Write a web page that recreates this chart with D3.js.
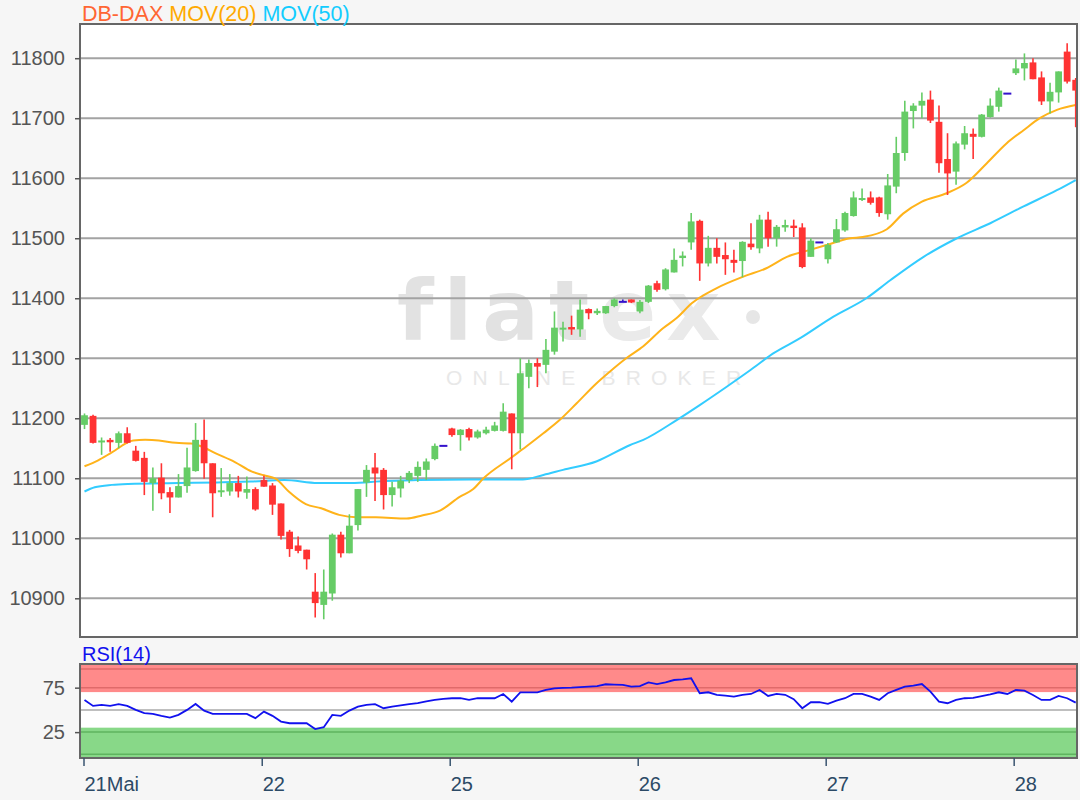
<!DOCTYPE html>
<html>
<head>
<meta charset="utf-8">
<script src="https://cdn.jsdelivr.net/npm/d3@7"></script>
<style>
  body { margin: 0; background: #f6f6f6; }
  svg { display: block; font-family: "Liberation Sans", Arial, sans-serif; }
</style>
</head>
<body>
<svg id="chart"></svg>
<script>
// half-hour candles
const opens  = [11189,11204,11161,11164,11159,11175,11146,11134,11092,11101,11077,11068,11087,11112,11164,11125,11078,11078,11092,11076,
                11082,11097,11088,11058,11011,10988,10981,10911,10889,10908,11006,10975,11022,11093,11118,11114,11072,11083,11097,11104,
                11114,11132,11154,11183,11172,11182,11168,11175,11179,11179,11208,11175,11269,11292,11289,11311,11349,11352,11348,11382,
                11375,11375,11387,11394,11398,11378,11394,11425,11415,11443,11467,11493,11529,11458,11484,11472,11464,11462,11491,11483,
                11531,11500,11518,11521,11518,11469,11493,11465,11493,11513,11537,11564,11568,11568,11540,11586,11642,11712,11721,11731,
                11694,11632,11611,11656,11674,11669,11702,11719,11741,11775,11783,11793,11768,11728,11743,11811,11764];
const highs  = [11208,11206,11168,11167,11178,11185,11154,11144,11118,11125,11085,11107,11151,11192,11198,11125,11117,11107,11104,11103,
                11085,11104,11092,11058,11014,11003,10981,10942,10948,11008,11011,11040,11082,11122,11142,11117,11094,11104,11112,11128,
                11133,11158,11154,11184,11182,11184,11181,11186,11194,11225,11208,11300,11298,11300,11332,11378,11361,11371,11398,11383,
                11383,11387,11400,11398,11398,11397,11422,11429,11450,11483,11478,11542,11531,11504,11500,11493,11481,11495,11525,11539,
                11544,11522,11531,11531,11525,11500,11493,11492,11532,11544,11578,11583,11578,11569,11607,11669,11729,11725,11743,11746,
                11721,11675,11661,11687,11683,11707,11733,11751,11741,11798,11808,11800,11778,11759,11778,11825,11767];
const lows   = [11182,11158,11139,11144,11150,11158,11128,11072,11046,11065,11042,11068,11076,11111,11099,11035,11069,11071,11068,11066,
                11046,11086,11039,10998,10969,10975,10948,10868,10865,10896,10968,10975,11013,11069,11062,11048,11053,11068,11092,11094,
                11097,11130,11154,11169,11146,11163,11166,11173,11178,11178,11115,11148,11250,11252,11275,11306,11328,11339,11336,11365,
                11372,11374,11385,11394,11392,11375,11392,11411,11413,11443,11453,11481,11429,11453,11458,11439,11443,11435,11481,11475,
                11486,11486,11511,11502,11450,11469,11493,11458,11492,11511,11536,11562,11556,11536,11531,11575,11629,11683,11700,11692,
                11609,11572,11589,11648,11632,11668,11701,11711,11741,11772,11763,11765,11722,11708,11726,11758,11685];
const closes = [11205,11159,11163,11160,11175,11159,11129,11094,11100,11075,11068,11087,11118,11164,11125,11075,11080,11092,11078,11082,
                11048,11086,11056,11004,10982,10979,10965,10892,10911,11006,10975,11021,11082,11114,11108,11072,11085,11096,11109,11119,
                11128,11154,11154,11172,11181,11168,11178,11181,11188,11211,11175,11275,11292,11286,11314,11351,11351,11348,11381,11375,
                11379,11387,11398,11394,11393,11394,11421,11414,11448,11464,11471,11528,11458,11484,11469,11465,11459,11494,11485,11531,
                11500,11519,11522,11517,11452,11496,11493,11489,11515,11542,11568,11567,11559,11542,11588,11642,11711,11721,11729,11696,
                11625,11608,11658,11675,11669,11706,11721,11746,11741,11783,11792,11765,11728,11744,11778,11761,11746];

// moving averages, read at candle positions
const ma20Idx = [0,1.6,3.2,5.7,7.1,8.7,10.7,12.5,13.7,15.3,17.6,19.6,21,22.4,23.9,25.9,27.7,29.8,31.8,34.1,37.7,39.5,41.6,43.9,45.5,46.7,
                 49.8,51.7,53.7,55.6,57.6,59.9,61.5,63.4,65.4,67.7,69.3,71.1,74,77.1,79.8,82.2,84.5,86.9,89.6,91.1,93.9,95.8,98,100.9,
                 103.2,105.6,107.9,109.9,111.8,113.8,116];
const ma20Val = [11120,11130,11143,11163,11164,11163,11159,11158,11153,11142,11127,11111,11105,11099,11078,11057,11050,11039,11035,11035,11033,11038,
                 11046,11069,11082,11100,11133,11153,11175,11197,11225,11258,11278,11300,11320,11350,11367,11392,11417,11436,11450,11469,
                 11479,11489,11500,11502,11515,11541,11561,11575,11592,11625,11658,11680,11700,11714,11722];
const ma50Idx = [0,1.2,3.2,5.1,11,15.6,19.5,23.4,27.3,31.2,35.1,39,45,51.3,53.7,56,59.9,63.8,65.4,69.3,72,75.2,77.9,80.6,83.7,87.6,
                 91.5,94.3,98.2,102.1,106,109.9,113.8,116];
const ma50Val = [11078,11085,11089,11090.5,11092,11093,11094.5,11097,11092,11092,11095.5,11097,11098,11098,11105.5,11114,11128,11155,11164,11197,
                 11222,11253,11280,11308,11333,11369,11400,11430,11469,11500,11525,11553,11580,11597];

const rsiVals = [61.2,54.5,55.6,54.5,56.4,54.5,50,46.3,45.5,43.3,41.4,44.4,50,56.7,49.2,45.5,45.5,45.5,45.5,45.5,
                 40.7,48.1,43.3,36.9,35,35,35,28.4,30.6,44.4,43.3,49.2,53.7,55.6,56.4,51.9,53.7,55,56.5,57.5,
                 59.5,61.2,62.5,63.1,63.1,61.2,63.1,63.1,63.1,67.9,59.3,69.8,69.8,69.8,72.4,74.3,74.8,75,75.5,76.1,
                 76.8,78.8,78.5,78.1,76.1,76.8,81,79.1,81,83.6,84.3,85.5,68.7,69.8,66.8,66,64.9,66.8,67.9,72.4,
                 65.7,67.9,67,62,51.9,58.6,58.6,56.7,60.4,63.1,67.9,67.9,64.9,61.2,68.7,72.5,76.1,77.3,79.1,70.6,
                 59.3,57.5,61.2,63.1,63.5,65.5,67.5,69.8,67.9,72.4,71.6,66.8,61.2,61.2,65.7,63.1,58.2];

const dayLabels = ["21Mai", "22", "25", "26", "27", "28"];
const dayStart = [0, 21, 43, 65, 87, 109];
const priceTicks = [10900, 11000, 11100, 11200, 11300, 11400, 11500, 11600, 11700, 11800];
const rsiTicks = [25, 75];

const W = 1080, H = 800;
const plot = { left: 80, right: 1077, top: 24, bottom: 637 };
const rsiBox = { top: 664, bottom: 758 };

const upColor = "#66cc66", downColor = "#ff3333", flatColor = "#3311cc";

const svg = d3.select("#chart").attr("width", W).attr("height", H);

const x = d3.scaleLinear().domain([0, 116]).range([84.5, 1075.7]);
const y = d3.scaleLinear().domain([10835.5, 11857]).range([plot.bottom, plot.top]);
const yR = d3.scaleLinear().domain([-4.1, 101.6]).range([rsiBox.bottom, rsiBox.top]);

svg.append("defs").append("clipPath").attr("id", "clipMain")
  .append("rect")
  .attr("x", plot.left).attr("y", plot.top)
  .attr("width", plot.right - plot.left).attr("height", plot.bottom - plot.top);

// main panel background
svg.append("rect")
  .attr("x", plot.left).attr("y", plot.top)
  .attr("width", plot.right - plot.left).attr("height", plot.bottom - plot.top)
  .attr("fill", "#fff");

// watermark
const wm = svg.append("g").attr("pointer-events", "none");
const wmText = wm.append("text")
  .attr("x", 397).attr("y", 340)
  .attr("font-family", "DejaVu Sans, sans-serif")
  .attr("font-size", 84).attr("font-weight", "bold")
  .attr("letter-spacing", 10)
  .attr("fill", "#e2e2e2");
wmText.append("tspan").text("flat");
wmText.append("tspan").attr("fill", "#eaeaea").text("ex");
wm.append("circle").attr("cx", 753).attr("cy", 317).attr("r", 7).attr("fill", "#e6e6e6");
wm.append("text")
  .attr("x", 446).attr("y", 385)
  .attr("font-size", 21).attr("letter-spacing", 10.2)
  .attr("fill", "#e8e8e8")
  .text("ONLINE BROKER");

// grid
svg.append("g").selectAll("line").data(priceTicks).join("line")
  .attr("x1", plot.left).attr("x2", plot.right)
  .attr("y1", d => y(d)).attr("y2", d => y(d))
  .attr("stroke", "#a3a3a3").attr("stroke-width", 2);

const idx = d3.range(opens.length);
const main = svg.append("g").attr("clip-path", "url(#clipMain)");

// moving averages
const maLine = d3.line().x(d => x(d[0])).y(d => y(d[1])).curve(d3.curveMonotoneX);
main.append("path")
  .attr("d", maLine(d3.zip(ma50Idx, ma50Val)))
  .attr("fill", "none").attr("stroke", "#33ccff").attr("stroke-width", 2);
main.append("path")
  .attr("d", maLine(d3.zip(ma20Idx, ma20Val)))
  .attr("fill", "none").attr("stroke", "#ffb31a").attr("stroke-width", 2);

// candles
const colorOf = i => closes[i] > opens[i] ? upColor : (closes[i] < opens[i] ? downColor : flatColor);
const candles = main.append("g").selectAll("g").data(idx).join("g");
candles.append("line")
  .attr("x1", i => x(i)).attr("x2", i => x(i))
  .attr("y1", i => y(highs[i])).attr("y2", i => y(lows[i]))
  .attr("stroke", colorOf).attr("stroke-width", 1.6);
candles.append("rect")
  .attr("x", i => x(i) - (opens[i] === closes[i] ? 4 : 3.4))
  .attr("width", i => opens[i] === closes[i] ? 8 : 6.8)
  .attr("y", i => y(Math.max(opens[i], closes[i])) - (opens[i] === closes[i] ? 1 : 0))
  .attr("height", i => Math.max(2, Math.abs(y(opens[i]) - y(closes[i]))))
  .attr("fill", colorOf);

// main frame
svg.append("path")
  .attr("d", `M${plot.left},${plot.bottom}V${plot.top}H${plot.right}V${plot.bottom}Z`)
  .attr("fill", "none").attr("stroke", "#666").attr("stroke-width", 2);

// y axis
const yAxis = d3.axisLeft(y).tickValues(priceTicks).tickFormat(d3.format("d")).tickSize(5).tickPadding(10);
const gy = svg.append("g").attr("transform", `translate(${plot.left},0)`).call(yAxis);
gy.select(".domain").remove();
gy.selectAll("line").attr("stroke", "#555").attr("stroke-width", 1.5);
gy.selectAll("text").attr("font-size", 20).attr("fill", "#555").attr("font-family", "Liberation Sans, Arial, sans-serif");

// legend
const legend = svg.append("text").attr("x", 82).attr("y", 20.5).attr("font-size", 21.5);
legend.append("tspan").attr("fill", "#ff6633").text("DB-DAX ");
legend.append("tspan").attr("fill", "#ffaa00").text("MOV(20) ");
legend.append("tspan").attr("fill", "#11ccff").text("MOV(50)");

// RSI panel
svg.append("rect")
  .attr("x", plot.left).attr("y", rsiBox.top)
  .attr("width", plot.right - plot.left).attr("height", rsiBox.bottom - rsiBox.top)
  .attr("fill", "#fff");
svg.append("rect")
  .attr("x", plot.left).attr("y", rsiBox.top)
  .attr("width", plot.right - plot.left).attr("height", yR(70) - rsiBox.top)
  .attr("fill", "#ff8a8a");
svg.append("rect")
  .attr("x", plot.left).attr("y", yR(30))
  .attr("width", plot.right - plot.left).attr("height", rsiBox.bottom - yR(30))
  .attr("fill", "#88d888");
[[96, "#e06a6a"], [75, "#e06a6a"], [25, "#5fb45f"], [0, "#5fb45f"]].forEach(([v, c]) => {
  svg.append("line")
    .attr("x1", plot.left).attr("x2", plot.right)
    .attr("y1", yR(v)).attr("y2", yR(v))
    .attr("stroke", c).attr("stroke-width", 1.5);
});
svg.append("line")
  .attr("x1", plot.left).attr("x2", plot.right)
  .attr("y1", yR(50)).attr("y2", yR(50))
  .attr("stroke", "#aaa").attr("stroke-width", 1.5);

svg.append("path")
  .attr("d", d3.line().x((d, i) => x(i)).y(d => yR(d))(rsiVals))
  .attr("fill", "none").attr("stroke", "#1111ee").attr("stroke-width", 1.8);

svg.append("rect")
  .attr("x", plot.left).attr("y", rsiBox.top)
  .attr("width", plot.right - plot.left).attr("height", rsiBox.bottom - rsiBox.top)
  .attr("fill", "none").attr("stroke", "#666").attr("stroke-width", 2);

const rAxis = d3.axisLeft(yR).tickValues(rsiTicks).tickSize(5).tickPadding(10);
const gr = svg.append("g").attr("transform", `translate(${plot.left},0)`).call(rAxis);
gr.select(".domain").remove();
gr.selectAll("line").attr("stroke", "#555").attr("stroke-width", 1.5);
gr.selectAll("text").attr("font-size", 20).attr("fill", "#555").attr("font-family", "Liberation Sans, Arial, sans-serif");

svg.append("text").attr("x", 82).attr("y", 661).attr("font-size", 20).attr("fill", "#1111ee").text("RSI(14)");

// x axis (ticks sit just before the first candle of each day)
const tickX = (d, k) => k === 0 ? x(d) - 0.5 : x(d - 0.2);
const gx = svg.append("g");
gx.selectAll("line").data(dayStart).join("line")
  .attr("x1", tickX).attr("x2", tickX)
  .attr("y1", rsiBox.bottom).attr("y2", rsiBox.bottom + 8)
  .attr("stroke", "#3a5570").attr("stroke-width", 1.5);
gx.selectAll("text").data(dayStart).join("text")
  .attr("x", (d, k) => tickX(d, k) + 0.5).attr("y", 790.5)
  .attr("font-size", 20).attr("fill", "#2c4a66")
  .text((d, k) => dayLabels[k]);
</script>
</body>
</html>
